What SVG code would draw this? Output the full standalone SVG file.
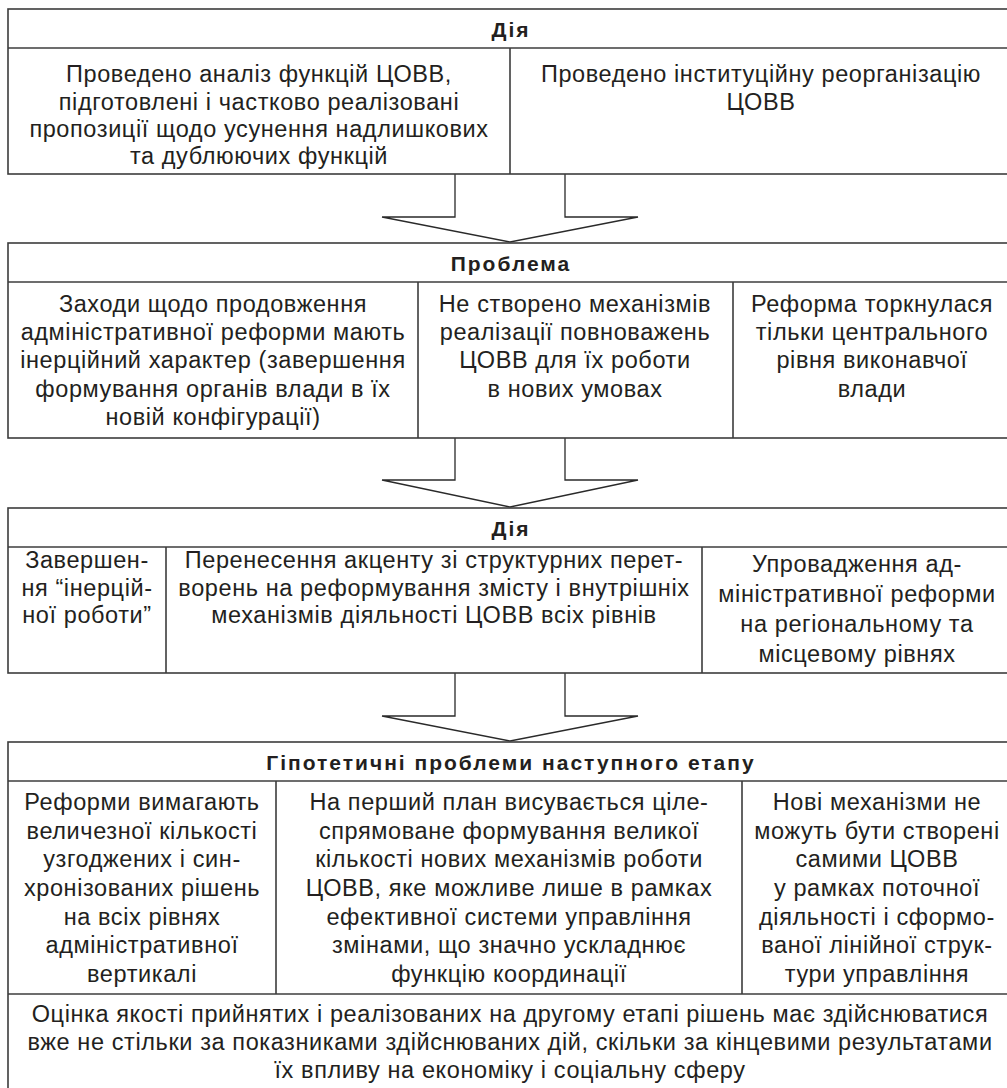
<svg xmlns="http://www.w3.org/2000/svg" width="1007" height="1088" viewBox="0 0 1007 1088">
<style>
.box{fill:#fff;stroke:#3c3c3c;stroke-width:1.6}
.ln{stroke:#3c3c3c;stroke-width:1.6;fill:none}
.arr{fill:#fff;stroke:#2a2a2a;stroke-width:1.3}
text{font-family:"Liberation Sans",Arial,sans-serif;fill:#231f20;text-anchor:middle}
.h{font-size:21px;font-weight:bold;letter-spacing:2px}
.t{font-size:23.5px;letter-spacing:0.6px}
</style>
<rect width="1007" height="1088" fill="#fff"/>
<g id="connectors">
<path class="arr" d="M455,174 V217 H382 L510,242 L638,217 H565 V174"/>
<path class="arr" d="M455,438 V480 H382 L510,507 L638,480 H565 V438"/>
<path class="arr" d="M455,673 V716 H382 L510,741 L638,716 H565 V673"/>
</g>
<g id="action1">
<rect class="box" x="8" y="9" width="1004" height="165"/>
<line class="ln" x1="8" y1="48" x2="1012" y2="48"/>
<line class="ln" x1="510" y1="48" x2="510" y2="174"/>
<text class="h" x="511" y="37">Дія</text>
<text class="t" x="259" y="82">Проведено аналіз функцій ЦОВВ,</text>
<text class="t" x="259" y="110">підготовлені і частково реалізовані</text>
<text class="t" x="259" y="137">пропозиції щодо усунення надлишкових</text>
<text class="t" x="259" y="164">та дублюючих функцій</text>
<text class="t" x="761" y="82">Проведено інституційну реорганізацію</text>
<text class="t" x="761" y="110">ЦОВВ</text>
</g>
<g id="problem">
<rect class="box" x="8" y="243" width="1004" height="195"/>
<line class="ln" x1="8" y1="282" x2="1012" y2="282"/>
<line class="ln" x1="418" y1="282" x2="418" y2="438"/>
<line class="ln" x1="733" y1="282" x2="733" y2="438"/>
<text class="h" x="511" y="271">Проблема</text>
<text class="t" x="213" y="312">Заходи щодо продовження</text>
<text class="t" x="213" y="340">адміністративної реформи мають</text>
<text class="t" x="213" y="368">інерційний характер (завершення</text>
<text class="t" x="213" y="397">формування органів влади в їх</text>
<text class="t" x="213" y="425">новій конфігурації)</text>
<text class="t" x="575" y="312">Не створено механізмів</text>
<text class="t" x="575" y="340">реалізації повноважень</text>
<text class="t" x="575" y="368">ЦОВВ для їх роботи</text>
<text class="t" x="575" y="397">в нових умовах</text>
<text class="t" x="872" y="312">Реформа торкнулася</text>
<text class="t" x="872" y="340">тільки центрального</text>
<text class="t" x="872" y="368">рівня виконавчої</text>
<text class="t" x="872" y="397">влади</text>
</g>
<g id="action2">
<rect class="box" x="8" y="508" width="1004" height="165"/>
<line class="ln" x1="8" y1="547" x2="1012" y2="547"/>
<line class="ln" x1="166" y1="547" x2="166" y2="673"/>
<line class="ln" x1="702" y1="547" x2="702" y2="673"/>
<text class="h" x="511" y="536">Дія</text>
<text class="t" x="87" y="568">Завершен-</text>
<text class="t" x="87" y="596">ня “інерцій-</text>
<text class="t" x="87" y="623">ної роботи”</text>
<text class="t" x="434" y="568">Перенесення акценту зі структурних перет-</text>
<text class="t" x="434" y="596">ворень на реформування змісту і внутрішніх</text>
<text class="t" x="434" y="623">механізмів діяльності ЦОВВ всіх рівнів</text>
<text class="t" x="857" y="572">Упровадження ад-</text>
<text class="t" x="857" y="602">міністративної реформи</text>
<text class="t" x="857" y="632">на регіональному та</text>
<text class="t" x="857" y="662">місцевому рівнях</text>
</g>
<g id="problems-next">
<rect class="box" x="8" y="742" width="1004" height="360"/>
<line class="ln" x1="8" y1="781" x2="1012" y2="781"/>
<line class="ln" x1="276" y1="781" x2="276" y2="994"/>
<line class="ln" x1="742" y1="781" x2="742" y2="994"/>
<line class="ln" x1="8" y1="994" x2="1012" y2="994"/>
<text class="h" x="511" y="770">Гіпотетичні проблеми наступного етапу</text>
<text class="t" x="142" y="810">Реформи вимагають</text>
<text class="t" x="142" y="839">величезної кількості</text>
<text class="t" x="142" y="867">узгоджених і син-</text>
<text class="t" x="142" y="896">хронізованих рішень</text>
<text class="t" x="142" y="925">на всіх рівнях</text>
<text class="t" x="142" y="953">адміністративної</text>
<text class="t" x="142" y="982">вертикалі</text>
<text class="t" x="509" y="810">На перший план висувається ціле-</text>
<text class="t" x="509" y="839">спрямоване формування великої</text>
<text class="t" x="509" y="867">кількості нових механізмів роботи</text>
<text class="t" x="509" y="896">ЦОВВ, яке можливе лише в рамках</text>
<text class="t" x="509" y="925">ефективної системи управління</text>
<text class="t" x="509" y="953">змінами, що значно ускладнює</text>
<text class="t" x="509" y="982">функцію координації</text>
<text class="t" x="877" y="810">Нові механізми не</text>
<text class="t" x="877" y="839">можуть бути створені</text>
<text class="t" x="877" y="867">самими ЦОВВ</text>
<text class="t" x="877" y="896">у рамках поточної</text>
<text class="t" x="877" y="925">діяльності і сформо-</text>
<text class="t" x="877" y="953">ваної лінійної струк-</text>
<text class="t" x="877" y="982">тури управління</text>
<text class="t" x="510" y="1022">Оцінка якості прийнятих і реалізованих на другому етапі рішень має здійснюватися</text>
<text class="t" x="510" y="1050">вже не стільки за показниками здійснюваних дій, скільки за кінцевими результатами</text>
<text class="t" x="510" y="1078">їх впливу на економіку і соціальну сферу</text>
</g>
</svg>
